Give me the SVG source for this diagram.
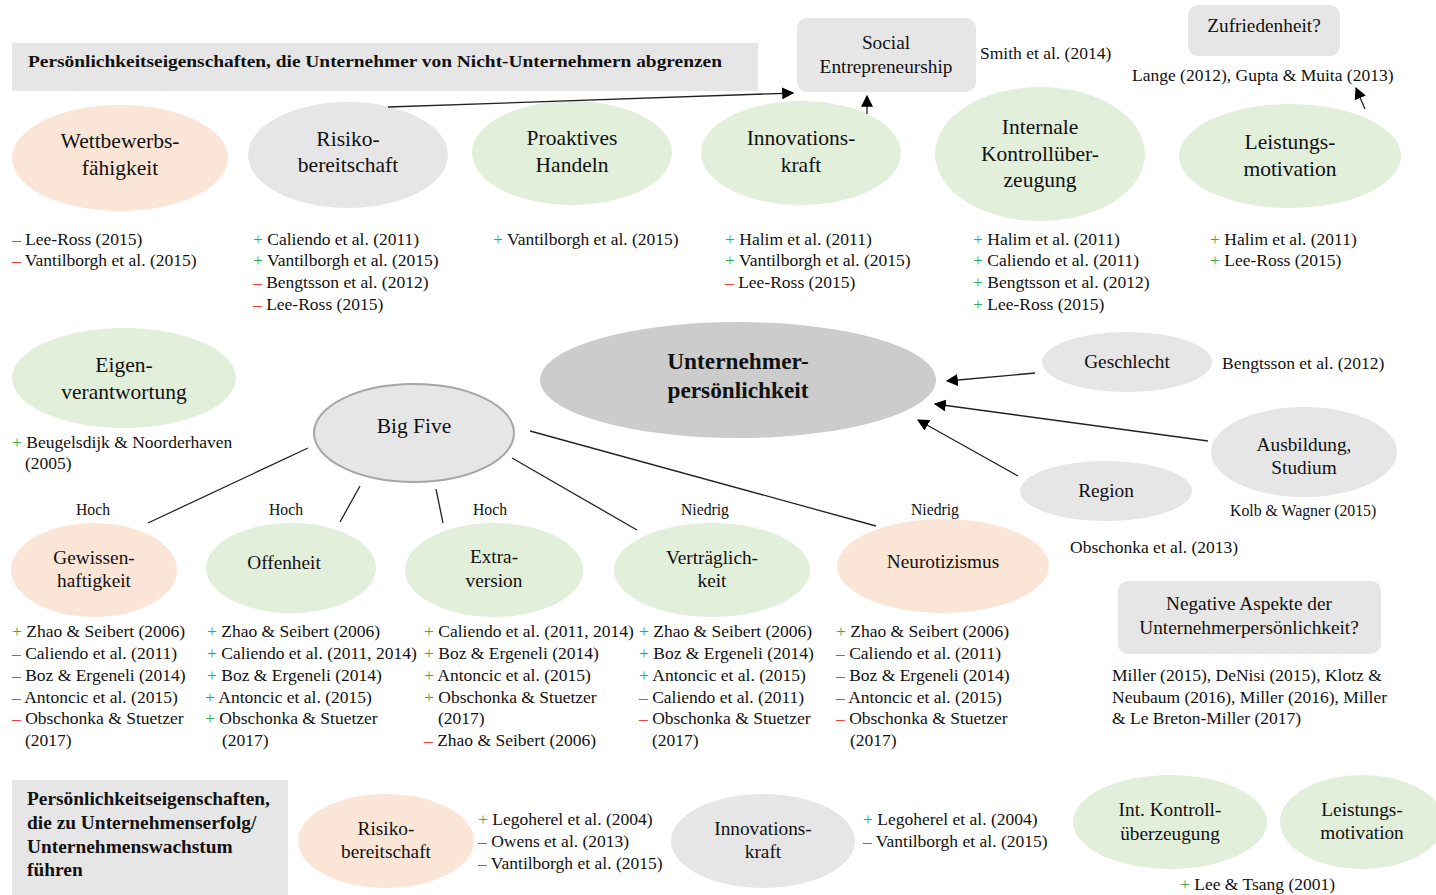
<svg xmlns="http://www.w3.org/2000/svg" width="1436" height="895" viewBox="0 0 1436 895">
<defs>
<marker id="ahs" viewBox="0 0 10 10" refX="9" refY="5" markerWidth="12" markerHeight="12" orient="auto" markerUnits="userSpaceOnUse">
<path d="M0,0 L10,5 L0,10 z" fill="#000"/>
</marker>
</defs>
<style>
text{font-family:"Liberation Serif","Times New Roman",serif;fill:#111;}
.n{font-size:21.5px;text-anchor:middle;}
.s{font-size:19.3px;text-anchor:middle;}
.r{font-size:17.5px;}
.rs{font-size:15.8px;}
.lb{font-size:15.7px;text-anchor:middle;}
.b{font-weight:bold;}
.p{fill:#3aaa55;}
.m{fill:#e8403a;}
.gray{fill:#e7e6e6;}
.peach{fill:#fbe5d6;}
.green{fill:#e2efda;}
.dark{fill:#cccccc;}
.c{stroke:#222;stroke-width:1.3;fill:none;}
</style>
<rect width="1436" height="895" fill="#fff"/>

<g id="title1">
<rect x="12" y="43" width="746" height="48" class="gray"/>
<text x="28" y="67" class="b" font-size="17.5" textLength="694" lengthAdjust="spacingAndGlyphs">Persönlichkeitseigenschaften, die Unternehmer von Nicht-Unternehmern abgrenzen</text>
</g>

<g id="social">
<rect x="797" y="18" width="179" height="74" rx="10" class="gray"/>
<text x="886" y="49" class="s">Social</text>
<text x="886" y="73" class="s">Entrepreneurship</text>
</g>
<text x="980" y="59" class="r">Smith et al. (2014)</text>

<g id="zufriedenheit">
<rect x="1188" y="5" width="152" height="51" rx="10" class="gray"/>
<text x="1264" y="32" class="s">Zufriedenheit?</text>
</g>
<text x="1132" y="81" class="r">Lange (2012), Gupta &amp; Muita (2013)</text>

<g id="wettbewerb">
<ellipse cx="120" cy="158" rx="108" ry="53" class="peach"/>
<text x="120" y="148" class="n">Wettbewerbs-</text>
<text x="120" y="175" class="n">fähigkeit</text>
</g>
<g id="risiko1">
<ellipse cx="348" cy="155" rx="100" ry="53" class="gray"/>
<text x="348" y="146" class="n">Risiko-</text>
<text x="348" y="172" class="n">bereitschaft</text>
</g>
<g id="proaktiv">
<ellipse cx="572" cy="153" rx="100" ry="52" class="green"/>
<text x="572" y="145" class="n">Proaktives</text>
<text x="572" y="172" class="n">Handeln</text>
</g>
<g id="innovation1">
<ellipse cx="801" cy="153" rx="100" ry="52" class="green"/>
<text x="801" y="145" class="n">Innovations-</text>
<text x="801" y="172" class="n">kraft</text>
</g>
<g id="internale">
<ellipse cx="1040" cy="154" rx="105" ry="67" class="green"/>
<text x="1040" y="134" class="n">Internale</text>
<text x="1040" y="161" class="n">Kontrollüber-</text>
<text x="1040" y="187" class="n">zeugung</text>
</g>
<g id="leistung1">
<ellipse cx="1290" cy="156" rx="111" ry="52" class="green"/>
<text x="1290" y="149" class="n">Leistungs-</text>
<text x="1290" y="176" class="n">motivation</text>
</g>

<g id="refs-row1">
<text x="12" y="245" class="r"><tspan class="m">–</tspan> Lee-Ross (2015)</text>
<text x="12" y="266" class="r"><tspan class="m">–</tspan> Vantilborgh et al. (2015)</text>
<text x="253" y="245" class="r"><tspan class="p">+</tspan> Caliendo et al. (2011)</text>
<text x="253" y="266" class="r"><tspan class="p">+</tspan> Vantilborgh et al. (2015)</text>
<text x="253" y="288" class="r"><tspan class="m">–</tspan> Bengtsson et al. (2012)</text>
<text x="253" y="310" class="r"><tspan class="m">–</tspan> Lee-Ross (2015)</text>
<text x="493" y="245" class="r"><tspan class="p">+</tspan> Vantilborgh et al. (2015)</text>
<text x="725" y="245" class="r"><tspan class="p">+</tspan> Halim et al. (2011)</text>
<text x="725" y="266" class="r"><tspan class="p">+</tspan> Vantilborgh et al. (2015)</text>
<text x="725" y="288" class="r"><tspan class="m">–</tspan> Lee-Ross (2015)</text>
<text x="973" y="245" class="r"><tspan class="p">+</tspan> Halim et al. (2011)</text>
<text x="973" y="266" class="r"><tspan class="p">+</tspan> Caliendo et al. (2011)</text>
<text x="973" y="288" class="r"><tspan class="p">+</tspan> Bengtsson et al. (2012)</text>
<text x="973" y="310" class="r"><tspan class="p">+</tspan> Lee-Ross (2015)</text>
<text x="1210" y="245" class="r"><tspan class="p">+</tspan> Halim et al. (2011)</text>
<text x="1210" y="266" class="r"><tspan class="p">+</tspan> Lee-Ross (2015)</text>
</g>

<g id="eigen">
<ellipse cx="124" cy="378" rx="112" ry="50" class="green"/>
<text x="124" y="372" class="n">Eigen-</text>
<text x="124" y="399" class="n">verantwortung</text>
</g>
<text x="12" y="448" class="r"><tspan class="p">+</tspan> Beugelsdijk &amp; Noorderhaven</text>
<text x="25" y="469" class="r">(2005)</text>

<g id="unternehmer">
<ellipse cx="738" cy="380" rx="198" ry="58" class="dark"/>
<text x="738" y="369" class="b" font-size="23.3" text-anchor="middle">Unternehmer-</text>
<text x="738" y="398" class="b" font-size="23.3" text-anchor="middle">persönlichkeit</text>
</g>

<g id="bigfive">
<ellipse cx="414" cy="433" rx="100" ry="49" class="gray" stroke="#a6a6a6" stroke-width="2"/>
<text x="414" y="433" class="n" font-size="21">Big Five</text>
</g>

<g id="geschlecht">
<ellipse cx="1127" cy="362" rx="85" ry="30" class="gray"/>
<text x="1127" y="368" class="s">Geschlecht</text>
</g>
<text x="1222" y="369" class="r">Bengtsson et al. (2012)</text>
<g id="ausbildung">
<ellipse cx="1304" cy="452" rx="93" ry="45" class="gray"/>
<text x="1304" y="451" class="s">Ausbildung,</text>
<text x="1304" y="474" class="s">Studium</text>
</g>
<text x="1230" y="516" class="rs">Kolb &amp; Wagner (2015)</text>
<g id="region">
<ellipse cx="1106" cy="491" rx="86" ry="30" class="gray"/>
<text x="1106" y="497" class="s">Region</text>
</g>
<text x="1070" y="553" class="r">Obschonka et al. (2013)</text>

<g id="connectors">
<line x1="388" y1="107" x2="793" y2="93" class="c" marker-end="url(#ahs)"/>
<line x1="867" y1="114" x2="867" y2="96" class="c" marker-end="url(#ahs)"/>
<line x1="1365" y1="109" x2="1356" y2="88" class="c" marker-end="url(#ahs)"/>
<line x1="1035" y1="373" x2="947" y2="381" class="c" marker-end="url(#ahs)"/>
<line x1="1208" y1="441" x2="935" y2="404" class="c" marker-end="url(#ahs)"/>
<line x1="1018" y1="476" x2="918" y2="420" class="c" marker-end="url(#ahs)"/>
<line x1="308" y1="448" x2="148" y2="523" class="c"/>
<line x1="360" y1="486" x2="340" y2="522" class="c"/>
<line x1="436" y1="489" x2="443" y2="523" class="c"/>
<line x1="512" y1="458" x2="637" y2="530" class="c"/>
<line x1="530" y1="431" x2="876" y2="526" class="c"/>
</g>

<g id="labels">
<text x="93" y="515" class="lb">Hoch</text>
<text x="286" y="515" class="lb">Hoch</text>
<text x="490" y="515" class="lb">Hoch</text>
<text x="705" y="515" class="lb">Niedrig</text>
<text x="935" y="515" class="lb">Niedrig</text>
</g>

<g id="gewissen">
<ellipse cx="94" cy="570" rx="83" ry="47" class="peach"/>
<text x="94" y="564" class="s">Gewissen-</text>
<text x="94" y="587" class="s">haftigkeit</text>
</g>
<g id="offenheit">
<ellipse cx="291" cy="568" rx="85" ry="45" class="green"/>
<text x="284" y="569" class="s">Offenheit</text>
</g>
<g id="extraversion">
<ellipse cx="494" cy="570" rx="89" ry="47" class="green"/>
<text x="494" y="563" class="s">Extra-</text>
<text x="494" y="587" class="s">version</text>
</g>
<g id="vertraeglich">
<ellipse cx="712" cy="570" rx="98" ry="47" class="green"/>
<text x="712" y="564" class="s">Verträglich-</text>
<text x="712" y="587" class="s">keit</text>
</g>
<g id="neurotizismus">
<ellipse cx="943" cy="566" rx="106" ry="47" class="peach"/>
<text x="943" y="568" class="s">Neurotizismus</text>
</g>

<g id="refs-row2">
<text x="12" y="637" class="r"><tspan class="p">+</tspan> Zhao &amp; Seibert (2006)</text>
<text x="12" y="659" class="r"><tspan class="m">–</tspan> Caliendo et al. (2011)</text>
<text x="12" y="681" class="r"><tspan class="m">–</tspan> Boz &amp; Ergeneli (2014)</text>
<text x="12" y="703" class="r"><tspan class="m">–</tspan> Antoncic et al. (2015)</text>
<text x="12" y="724" class="r"><tspan class="m">–</tspan> Obschonka &amp; Stuetzer</text>
<text x="25" y="746" class="r">(2017)</text>

<text x="207" y="637" class="r"><tspan class="p">+</tspan> Zhao &amp; Seibert (2006)</text>
<text x="207" y="659" class="r"><tspan class="p">+</tspan> Caliendo et al. (2011, 2014)</text>
<text x="207" y="681" class="r"><tspan class="p">+</tspan> Boz &amp; Ergeneli (2014)</text>
<text x="205" y="703" class="r"><tspan class="p">+</tspan> Antoncic et al. (2015)</text>
<text x="205" y="724" class="r"><tspan class="p">+</tspan> Obschonka &amp; Stuetzer</text>
<text x="222" y="746" class="r">(2017)</text>

<text x="424" y="637" class="r"><tspan class="p">+</tspan> Caliendo et al. (2011, 2014)</text>
<text x="424" y="659" class="r"><tspan class="p">+</tspan> Boz &amp; Ergeneli (2014)</text>
<text x="424" y="681" class="r"><tspan class="p">+</tspan> Antoncic et al. (2015)</text>
<text x="424" y="703" class="r"><tspan class="p">+</tspan> Obschonka &amp; Stuetzer</text>
<text x="438" y="724" class="r">(2017)</text>
<text x="424" y="746" class="r"><tspan class="m">–</tspan> Zhao &amp; Seibert (2006)</text>

<text x="639" y="637" class="r"><tspan class="p">+</tspan> Zhao &amp; Seibert (2006)</text>
<text x="639" y="659" class="r"><tspan class="p">+</tspan> Boz &amp; Ergeneli (2014)</text>
<text x="639" y="681" class="r"><tspan class="p">+</tspan> Antoncic et al. (2015)</text>
<text x="639" y="703" class="r"><tspan class="m">–</tspan> Caliendo et al. (2011)</text>
<text x="639" y="724" class="r"><tspan class="m">–</tspan> Obschonka &amp; Stuetzer</text>
<text x="652" y="746" class="r">(2017)</text>

<text x="836" y="637" class="r"><tspan class="p">+</tspan> Zhao &amp; Seibert (2006)</text>
<text x="836" y="659" class="r"><tspan class="m">–</tspan> Caliendo et al. (2011)</text>
<text x="836" y="681" class="r"><tspan class="m">–</tspan> Boz &amp; Ergeneli (2014)</text>
<text x="836" y="703" class="r"><tspan class="m">–</tspan> Antoncic et al. (2015)</text>
<text x="836" y="724" class="r"><tspan class="m">–</tspan> Obschonka &amp; Stuetzer</text>
<text x="850" y="746" class="r">(2017)</text>
</g>

<g id="negativ">
<rect x="1118" y="581" width="263" height="73" rx="10" class="gray"/>
<text x="1249" y="610" class="s" font-size="18.5">Negative Aspekte der</text>
<text x="1249" y="634" class="s" font-size="18.5">Unternehmerpersönlichkeit?</text>
</g>
<text x="1112" y="681" class="r">Miller (2015), DeNisi (2015), Klotz &amp;</text>
<text x="1112" y="703" class="r">Neubaum (2016), Miller (2016), Miller</text>
<text x="1112" y="724" class="r">&amp; Le Breton-Miller (2017)</text>

<g id="title2">
<rect x="12" y="780" width="276" height="115" class="gray"/>
<text x="27" y="805" class="b" font-size="19.4">Persönlichkeitseigenschaften,</text>
<text x="27" y="829" class="b" font-size="19.4">die zu Unternehmenserfolg/</text>
<text x="27" y="853" class="b" font-size="19.4">Unternehmenswachstum</text>
<text x="27" y="876" class="b" font-size="19.4">führen</text>
</g>

<g id="risiko2">
<ellipse cx="386" cy="841" rx="88" ry="47" class="peach"/>
<text x="386" y="835" class="s">Risiko-</text>
<text x="386" y="858" class="s">bereitschaft</text>
</g>
<text x="478" y="825" class="r"><tspan class="p">+</tspan> Legoherel et al. (2004)</text>
<text x="478" y="847" class="r"><tspan class="m">–</tspan> Owens et al. (2013)</text>
<text x="478" y="869" class="r"><tspan class="m">–</tspan> Vantilborgh et al. (2015)</text>

<g id="innovation2">
<ellipse cx="763" cy="841" rx="92" ry="47" class="gray"/>
<text x="763" y="835" class="s">Innovations-</text>
<text x="763" y="858" class="s">kraft</text>
</g>
<text x="863" y="825" class="r"><tspan class="p">+</tspan> Legoherel et al. (2004)</text>
<text x="863" y="847" class="r"><tspan class="m">–</tspan> Vantilborgh et al. (2015)</text>

<g id="kontroll2">
<ellipse cx="1170" cy="822" rx="97" ry="47" class="green"/>
<text x="1170" y="816" class="s">Int. Kontroll-</text>
<text x="1170" y="840" class="s">überzeugung</text>
</g>
<g id="leistung2">
<ellipse cx="1362" cy="822" rx="82" ry="47" class="green"/>
<text x="1362" y="816" class="s">Leistungs-</text>
<text x="1362" y="839" class="s">motivation</text>
</g>
<text x="1180" y="890" class="r"><tspan class="p">+</tspan> Lee &amp; Tsang (2001)</text>
</svg>
